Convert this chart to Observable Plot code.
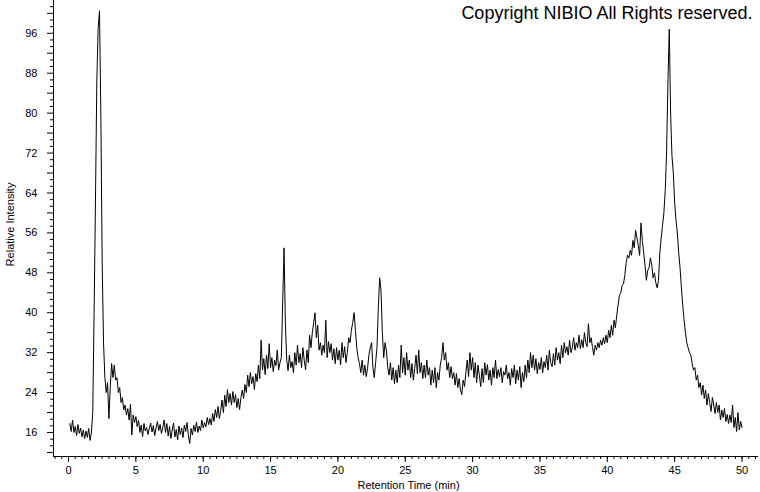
<!DOCTYPE html>
<html>
<head>
<meta charset="utf-8">
<script src="https://cdn.jsdelivr.net/npm/d3@7"></script>
<script src="https://cdn.jsdelivr.net/npm/@observablehq/plot@0.6"></script>
<style>
  html, body { margin: 0; padding: 0; background: #ffffff; }
  #chart { width: 760px; height: 492px; }
</style>
</head>
<body>
<div id="chart"></div>
<script>
// Retention time sampling (min) and relative intensity
const timeStart = 0.1;
const timeStep = 0.1;
const intensity = [
  17.8, 16.2, 18.5, 16.0, 17.2, 15.4, 17.6, 15.8, 16.9, 15.1,
  16.5, 14.8, 16.3, 15.0, 16.8, 14.4, 15.9, 20.0, 40.0, 62.0,
  86.0, 97.0, 100.5, 80.0, 50.0, 34.0, 27.0, 24.0, 26.0, 18.8,
  25.0, 29.8, 27.0, 29.5, 26.5, 27.0, 24.0, 25.0, 22.0, 23.0,
  20.5, 21.5, 19.5, 20.8, 18.5, 21.6, 15.5, 19.5, 18.0, 19.2,
  17.2, 18.4, 16.0, 17.5, 15.2, 17.8, 16.3, 17.0, 15.6, 16.8,
  17.9, 16.1, 17.4, 15.4, 16.9, 18.2, 16.4, 17.6, 15.8, 17.0,
  18.5, 16.0, 17.8, 15.3, 17.2, 14.8, 16.5, 17.9, 15.1, 16.6,
  14.5, 17.3, 15.6, 16.9, 15.0, 17.5, 16.2, 18.0, 15.4, 13.8,
  16.8, 15.5, 17.4, 16.2, 18.1, 16.0, 17.3, 16.4, 18.5, 16.9,
  18.0, 17.1, 19.0, 17.6, 18.8, 17.5, 19.8, 18.2, 20.6, 19.0,
  21.2, 18.8, 20.4, 22.5, 20.0, 23.5, 21.2, 24.6, 22.0, 23.8,
  21.5, 24.2, 22.0, 23.6, 21.0, 22.8, 20.6, 23.0, 24.5, 22.8,
  25.6, 24.0, 27.5, 25.2, 28.0, 25.8, 27.2, 24.6, 27.8, 26.2,
  29.5, 26.8, 34.5, 28.5, 30.8, 27.6, 31.5, 28.8, 33.8, 29.0,
  31.0, 28.2, 30.5, 29.4, 32.5, 28.5, 30.0, 31.0, 42.0, 53.0,
  38.0, 30.5, 28.4, 31.5, 29.0, 30.2, 28.0, 32.0, 29.5, 33.5,
  30.0, 31.8, 29.0, 33.0, 30.5, 28.6, 32.5, 30.0, 35.5, 33.0,
  36.0, 38.0, 40.0, 35.0, 37.5, 32.5, 34.0, 31.5, 33.5, 32.0,
  38.5, 31.0, 34.2, 32.0, 33.8, 30.5, 32.8, 29.8, 33.0, 30.5,
  32.5, 29.6, 34.0, 31.0, 33.2, 30.0, 32.0, 35.0, 34.0, 36.5,
  38.0, 40.0, 36.5, 33.0, 31.0, 29.8, 28.0, 30.5, 27.5, 29.5,
  27.2, 28.8, 31.5, 33.0, 34.0, 29.0, 27.0, 30.0, 33.0, 41.0,
  47.0, 44.5, 36.0, 31.0, 34.0, 32.5, 29.0, 27.5, 30.0, 26.5,
  29.0, 25.8, 28.5, 26.0, 29.5, 27.0, 33.5, 28.0, 31.0, 27.5,
  32.0, 28.5, 30.5, 27.0, 29.8, 26.5, 28.8, 31.5, 27.8, 32.5,
  28.0, 30.0, 26.8, 29.5, 27.0, 30.5, 27.5, 29.0, 25.5, 28.5,
  26.0, 29.0, 25.0, 28.0, 26.5, 29.5, 31.0, 34.0, 30.5, 32.0,
  28.5, 30.0, 27.0, 29.2, 26.8, 28.0, 25.5, 27.8, 25.0, 26.8,
  24.5, 23.6, 26.5, 25.2, 28.0, 30.5, 27.2, 32.0, 28.5, 31.0,
  27.0, 30.0, 26.0, 29.5, 27.5, 25.2, 28.8, 26.0, 30.0, 27.5,
  29.6, 26.5, 28.5, 25.5, 29.0, 27.0, 30.5, 26.8, 28.6, 27.2,
  29.0, 26.0, 28.2, 27.5, 29.5, 26.8, 28.0, 25.5, 28.8, 27.0,
  29.5, 25.8, 28.5, 26.5, 29.2, 25.0, 28.0, 26.2, 29.5, 27.0,
  30.5, 28.0, 32.0, 29.0, 31.5, 28.5, 30.8, 27.8, 30.0, 28.6,
  31.0, 28.0, 30.2, 29.0, 31.5, 28.5, 32.5, 30.0, 29.2, 31.8,
  29.5, 33.0, 30.5, 32.0, 29.8, 33.5, 31.0, 34.0, 32.0, 33.2,
  31.5, 34.5, 32.0, 33.0, 35.0, 32.5, 34.0, 33.0, 35.5, 32.8,
  34.6, 33.0, 36.0, 34.0, 33.2, 37.8, 34.0, 35.0, 33.0, 31.5,
  33.5, 32.5, 34.0, 33.0, 34.5, 33.5, 35.0, 33.8, 35.5, 34.0,
  36.5, 35.0, 37.5, 35.5, 38.5, 37.0, 39.5, 41.5, 43.5, 44.0,
  45.5, 45.8, 47.5, 50.0, 51.5, 51.0, 52.5, 51.5, 54.5, 53.0,
  56.5, 55.0, 53.5, 51.5, 58.0, 54.5, 52.0, 49.5, 46.5, 48.5,
  49.0, 51.0, 49.5, 47.0, 48.0, 46.0, 45.0, 46.5, 52.0, 55.0,
  57.5, 60.0, 64.5, 72.0, 86.0, 96.8, 80.0, 71.5, 68.0, 62.0,
  58.5, 56.0, 52.0, 49.0, 45.0, 41.5, 38.5, 36.0, 34.0, 33.0,
  32.0, 31.5, 29.8, 28.5, 29.0, 26.5, 27.5, 25.0, 26.0, 23.5,
  25.5, 22.8, 24.5, 21.5, 23.8, 22.0, 20.2, 23.0, 21.5, 19.8,
  22.0, 20.0, 21.5, 18.5, 20.5, 19.0, 20.8, 18.2, 19.6, 17.8,
  19.5, 18.0, 21.5, 17.0, 19.0, 16.2, 20.0, 16.5, 18.2, 17.0
];

// Axis tick labels
const xTickLabels = [0, 5, 10, 15, 20, 25, 30, 35, 40, 45, 50];
const yTickLabels = [16, 24, 32, 40, 48, 56, 64, 72, 80, 88, 96];
const xMinorStep = 0.5;
const yMinorStep = 4 / 3;

const xTitle = "Retention Time (min)";
const yTitle = "Relative Intensity";
const copyright = "Copyright NIBIO All Rights reserved.";

const xDomain = [-1.114, 51.15];
const yDomain = [11.19, 102.57];

const trace = intensity.map((v, i) => ({t: +(timeStart + i * timeStep).toFixed(2), v}));

const xMinor = d3.range(-1, 51.01, xMinorStep).filter(t => t >= xDomain[0] && t <= xDomain[1]);
const yAll = d3.range(0, 70).map(i => 12 + i * yMinorStep).filter(v => v <= yDomain[1]);
const yMid = yAll.filter(v => Math.abs(v / 4 - Math.round(v / 4)) < 1e-6);
const yMinor = yAll.filter(v => Math.abs(v / 4 - Math.round(v / 4)) >= 1e-6);

const chart = Plot.plot({
  width: 760,
  height: 492,
  marginLeft: 53,
  marginRight: 3,
  marginTop: 0,
  marginBottom: 36,
  style: {
    fontFamily: "'Liberation Sans', Arial, sans-serif",
    fontSize: "11px",
    color: "black",
    background: "white"
  },
  x: {domain: xDomain, label: null},
  y: {domain: yDomain, label: null},
  marks: [
    Plot.frame({anchor: "left", stroke: "black"}),
    Plot.frame({anchor: "bottom", stroke: "black"}),
    Plot.axisX({ticks: xMinor, tickSize: 3, tickFormat: () => "", label: null}),
    Plot.axisX({ticks: xTickLabels, tickSize: 6, tickFormat: () => "", label: null}),
    Plot.axisX({ticks: xTickLabels, tickSize: 0, tickPadding: 10, label: null, fontSize: 11}),
    Plot.axisY({ticks: yMinor, tickSize: 3, tickFormat: () => "", label: null}),
    Plot.axisY({ticks: yMid, tickSize: 6, tickFormat: () => "", label: null}),
    Plot.axisY({ticks: yTickLabels, tickSize: 0, tickPadding: 16, label: null, fontSize: 11}),
    Plot.lineY(trace, {x: "t", y: "v", stroke: "black", strokeWidth: 1}),
    Plot.text([yTitle], {frameAnchor: "left", textAnchor: "middle", lineAnchor: "middle", rotate: -90, dx: -43, dy: -4, fontSize: 11, fill: "black"}),
    Plot.text([xTitle], {frameAnchor: "bottom", textAnchor: "middle", lineAnchor: "middle", dy: 29, dx: 3, fontSize: 11, fill: "black"}),
    Plot.text([copyright], {frameAnchor: "top-right", textAnchor: "end", lineAnchor: "middle", dx: -5, dy: 13, fontSize: 18, fill: "black"})
  ]
});

document.getElementById("chart").appendChild(chart);
</script>
</body>
</html>
